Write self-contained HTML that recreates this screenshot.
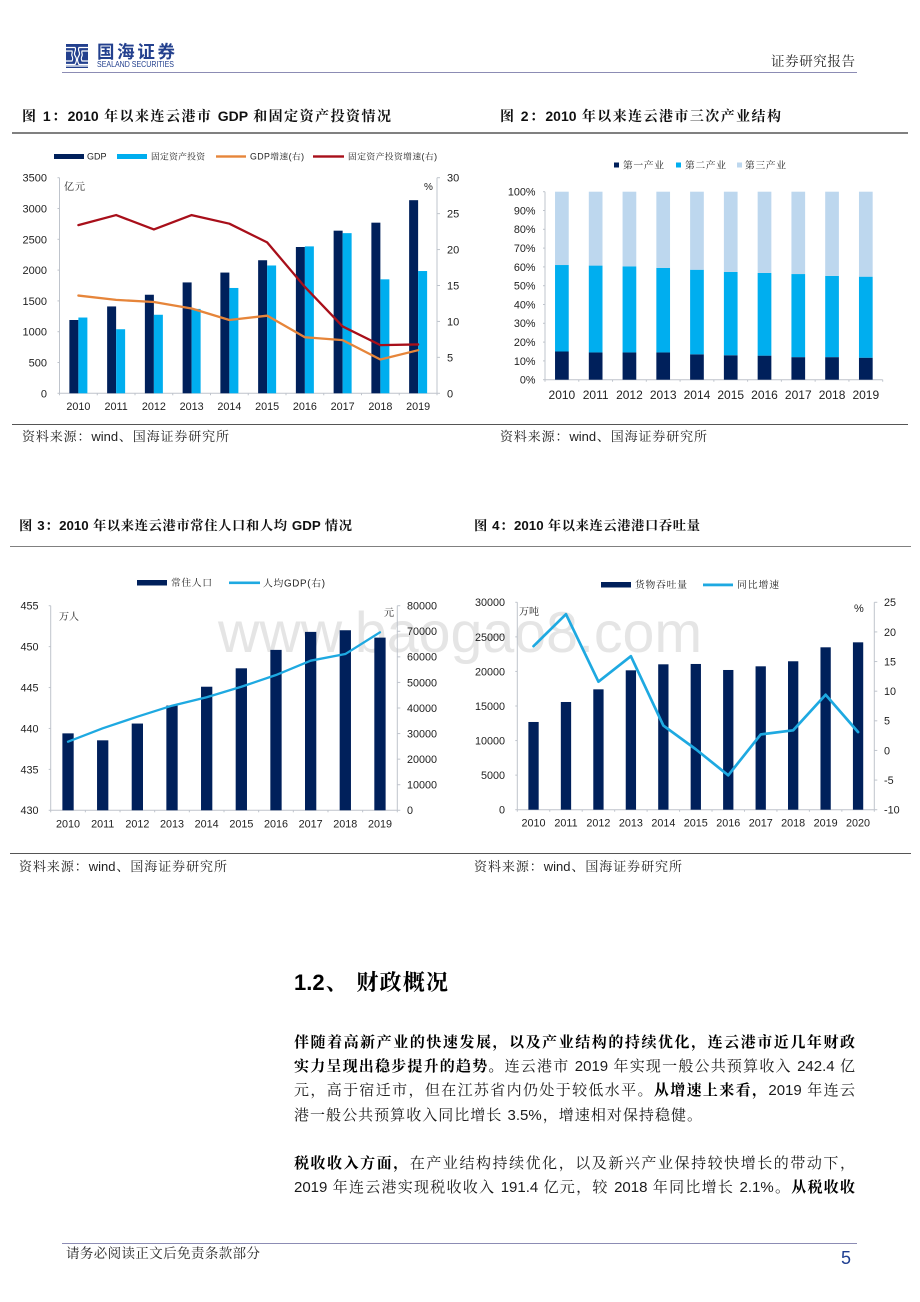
<!DOCTYPE html>
<html lang="zh">
<head>
<meta charset="utf-8">
<title>连云港市经济概况</title>
<style>
html,body{margin:0;padding:0;background:#fff;}
#page{position:relative;width:920px;height:1302px;overflow:hidden;background:#fff;font-family:"Liberation Sans","Noto Serif CJK SC",serif;color:#111;filter:blur(0.3px);}
#charts{position:absolute;left:0;top:0;}
.t{position:absolute;white-space:nowrap;text-align:justify;text-align-last:justify;}
.title{font-size:14px;line-height:18px;height:18px;font-weight:700;color:#111;}
.src{font-size:13px;line-height:16px;height:16px;color:#222;}
.body{font-size:15px;line-height:20px;height:20px;left:294px;color:#1a1a1a;}
.body b{font-weight:700;color:#000;}
.rule{position:absolute;}
svg text{font-family:"Liberation Sans","Noto Serif CJK SC",serif;}
</style>
</head>
<body>
<div id="page">

<svg id="charts" width="920" height="1302" viewBox="0 0 920 1302" xmlns="http://www.w3.org/2000/svg">
  <text x="218" y="652" font-size="57.3" fill="#e5e5e5">www.baogao8.com</text>

  <g id="logo" fill="#23408e">
    <rect x="66" y="44" width="22" height="24"/>
    <g fill="none" stroke="#fff" stroke-width="1.2">
      <path d="M66 47.5h9c2 3-2 5 0 8s2 5 0 9h-9"/>
      <path d="M66 51h6c1 2-1 3 0 5s1 3 0 5h-6"/>
      <path d="M88 47.5h-9c-2 3 2 5 0 8s-2 5 0 9h9"/>
      <path d="M88 51h-6c-1 2 1 3 0 5s-1 3 0 5h6"/>
      <path d="M66 66h22"/>
    </g>
    <text x="97" y="58" font-size="17.5" font-weight="700" textLength="78" style="font-family:'Noto Sans CJK SC',sans-serif">国海证券</text>
    <text x="97" y="67" font-size="8" textLength="77" lengthAdjust="spacingAndGlyphs">SEALAND SECURITIES</text>
  </g>

  <g id="chart1"></g>
  <g id="chart2"></g>
  <g id="chart3"></g>
  <g id="chart4"></g>

  <g font-size="8.8" fill="#222">
    <rect x="54" y="154" width="30" height="5" fill="#00205b"/>
    <text x="87" y="159.5" font-size="9">GDP</text>
    <rect x="117" y="154" width="30" height="5" fill="#00aeef"/>
    <text x="151" y="159.5" textLength="54" style="font-family:'Noto Serif CJK SC',serif">固定资产投资</text>
    <rect x="216" y="155.3" width="30" height="2.4" fill="#e6853a"/>
    <text x="250" y="159.5" textLength="54">GDP增速(右)</text>
    <rect x="313" y="155.3" width="31" height="2.4" fill="#a80f1a"/>
    <text x="348" y="159.5" textLength="89">固定资产投资增速(右)</text>
  </g>
  <text x="64" y="190" font-size="10" textLength="21" fill="#222">亿元</text>
  <text x="424" y="190" font-size="10" fill="#222">%</text>

  <g font-size="9.8" fill="#222">
    <rect x="614" y="162.5" width="5" height="5" fill="#00205b"/>
    <text x="623" y="168.5" textLength="41">第一产业</text>
    <rect x="676" y="162.5" width="5" height="5" fill="#00aeef"/>
    <text x="685" y="168.5" textLength="41">第二产业</text>
    <rect x="737" y="162.5" width="5" height="5" fill="#bdd7ee"/>
    <text x="745" y="168.5" textLength="41">第三产业</text>
  </g>

  <g font-size="9.8" fill="#222">
    <rect x="137" y="580" width="30" height="5.5" fill="#00205b"/>
    <text x="171" y="586" textLength="41">常住人口</text>
    <rect x="229" y="581.5" width="31" height="2.6" fill="#1ea9e1"/>
    <text x="263" y="586.5" textLength="62">人均GDP(右)</text>
  </g>
  <text x="59" y="620" font-size="10" textLength="20" fill="#222">万人</text>
  <text x="384" y="616" font-size="10" fill="#222">元</text>

  <g font-size="9.8" fill="#222">
    <rect x="601" y="582" width="30" height="5.5" fill="#00205b"/>
    <text x="635" y="588" textLength="52">货物吞吐量</text>
    <rect x="703" y="583.5" width="30" height="2.8" fill="#1ea9e1"/>
    <text x="737" y="588" textLength="42">同比增速</text>
  </g>
  <text x="519" y="615" font-size="10" textLength="20" fill="#222">万吨</text>
  <text x="854" y="612" font-size="11" fill="#222">%</text>
</svg>

<div class="rule" style="left:62px;top:72px;width:795px;height:1px;background:#8c8cb4"></div>
<div class="t" style="left:771px;top:53px;width:84px;font-size:13.5px;line-height:18px;color:#222">证券研究报告</div>

<div class="t title" style="left:22px;top:106.5px;width:369px">图 1：2010 年以来连云港市 GDP 和固定资产投资情况</div>
<div class="t title" style="left:500px;top:106.5px;width:281px">图 2：2010 年以来连云港市三次产业结构</div>
<div class="rule" style="left:12px;top:132px;width:896px;height:1.5px;background:#808080"></div>
<div class="rule" style="left:12px;top:423.5px;width:896px;height:1px;background:#555"></div>
<div class="t src" style="left:22px;top:429px;width:207px">资料来源：wind、国海证券研究所</div>
<div class="t src" style="left:500px;top:429px;width:207px">资料来源：wind、国海证券研究所</div>

<div class="t title" style="left:19px;top:517px;width:333px;font-size:13.3px">图 3：2010 年以来连云港市常住人口和人均 GDP 情况</div>
<div class="t title" style="left:474px;top:517px;width:226px;font-size:13.3px">图 4：2010 年以来连云港港口吞吐量</div>
<div class="rule" style="left:10px;top:545.5px;width:901px;height:1.5px;background:#808080"></div>
<div class="rule" style="left:10px;top:853px;width:901px;height:1px;background:#555"></div>
<div class="t src" style="left:19px;top:859px;width:208px">资料来源：wind、国海证券研究所</div>
<div class="t src" style="left:474px;top:859px;width:208px">资料来源：wind、国海证券研究所</div>

<div class="t" style="left:294px;top:969px;width:154px;font-size:22px;line-height:28px;font-weight:700;color:#000">1.2、 财政概况</div>

<div class="t body" style="top:1033px;width:561px"><b>伴随着高新产业的快速发展，以及产业结构的持续优化，连云港市近几年财政</b></div>
<div class="t body" style="top:1057px;width:561px"><b>实力呈现出稳步提升的趋势。</b>连云港市 2019 年实现一般公共预算收入 242.4 亿</div>
<div class="t body" style="top:1081px;width:561px">元，高于宿迁市，但在江苏省内仍处于较低水平。<b>从增速上来看，</b>2019 年连云</div>
<div class="t body" style="top:1106px;width:408px">港一般公共预算收入同比增长 3.5%，增速相对保持稳健。</div>
<div class="t body" style="top:1154px;width:561px"><b>税收收入方面，</b>在产业结构持续优化，以及新兴产业保持较快增长的带动下，</div>
<div class="t body" style="top:1178px;width:561px">2019 年连云港实现税收收入 191.4 亿元，较 2018 年同比增长 2.1%。<b>从税收收</b></div>

<div class="rule" style="left:62px;top:1243px;width:795px;height:1px;background:#8c8cb4"></div>
<div class="t" style="left:66px;top:1245px;width:194px;font-size:13.5px;line-height:18px;color:#222">请务必阅读正文后免责条款部分</div>
<div class="t" style="left:841px;top:1247px;font-size:18px;line-height:22px;color:#1f3f91;text-align-last:left">5</div>
</div>

<script>
// Chart 1
const years1 = ['2010','2011','2012','2013','2014','2015','2016','2017','2018','2019'];
const gdp = [1190,1410,1600,1800,1960,2160,2375,2640,2770,3135];
const investment = [1230,1040,1275,1370,1710,2075,2385,2600,1850,1985];
const gdpGrowth = [13.6,13.0,12.7,11.8,10.2,10.8,7.8,7.4,4.7,6.0];
const investmentGrowth = [23.4,24.8,22.8,24.8,23.6,21.0,14.8,9.3,6.7,6.8];
const ticks1Left = [0,500,1000,1500,2000,2500,3000,3500];
const ticks1Right = [0,5,10,15,20,25,30];
// Chart 2
const years2 = ['2010','2011','2012','2013','2014','2015','2016','2017','2018','2019'];
const primaryShare = [15,14.5,14.5,14.5,13.5,13,12.8,12,12,11.7];
const secondaryShare = [46,46.2,45.8,45,45,44.3,44,44.2,43.2,43.1];
const tertiaryShare = [39,39.3,39.7,40.5,41.5,42.7,43.2,43.8,44.8,45.2];
const ticks2 = [0,10,20,30,40,50,60,70,80,90,100];
// Chart 3
const years3 = ['2010','2011','2012','2013','2014','2015','2016','2017','2018','2019'];
const population = [439.4,438.55,440.6,442.8,445.1,447.35,449.6,451.8,452,451.1];
const gdpPerCapita = [26840,32050,36600,40900,44200,48300,52900,58500,61100,69600];
const ticks3Left = [430,435,440,445,450,455];
const ticks3Right = [0,10000,20000,30000,40000,50000,60000,70000,80000];
// Chart 4
const years4 = ['2010','2011','2012','2013','2014','2015','2016','2017','2018','2019','2020'];
const throughput = [12690,15580,17410,20160,21030,21080,20210,20740,21470,23490,24210];
const throughputGrowth = [17.6,23,11.6,15.9,4.2,0.2,-4.2,2.7,3.4,9.4,3.1];
const ticks4Left = [0,5000,10000,15000,20000,25000,30000];
const ticks4Right = [-10,-5,0,5,10,15,20,25];

const NS = 'http://www.w3.org/2000/svg';
const NAVY = '#00205b', CYAN = '#00aeef', PALE = '#bdd7ee', AXIS = '#bfc4cc';

function make(parent, tag, props, text) {
  const el = document.createElementNS(NS, tag);
  for (const k in props) el.setAttribute(k, props[k]);
  if (text !== undefined) el.textContent = text;
  parent.appendChild(el);
  return el;
}
function linear(d0, d1, r0, r1) {
  return v => r0 + (v - d0) * (r1 - r0) / (d1 - d0);
}
function bandCenter(left, right, n) {
  const w = (right - left) / n;
  return i => left + w * (i + 0.5);
}
function drawFrame(g, box, cats, left, leftY, right, rightY, opts) {
  const xAxis = make(g, 'path', {d: 'M' + box.l + ' ' + box.b + 'H' + box.r, stroke: AXIS, fill: 'none', 'stroke-width': 1});
  
  
  const yAxis = make(g, 'path', {d: 'M' + box.l + ' ' + box.t + 'V' + box.b, stroke: AXIS, fill: 'none', 'stroke-width': 1});
  
  
  const w = (box.r - box.l) / cats.length;
  cats.forEach((c, i) => {
    make(g, 'path', {d: 'M' + (box.l + w * i) + ' ' + box.b + 'v2', stroke: AXIS, fill: 'none'});
    const lab = make(g, 'text', {x: box.l + w * (i + 0.5), y: opts.xBase, 'font-size': opts.xSize, 'text-anchor': 'middle', fill: '#222'}, c);
    
    
  });
  make(g, 'path', {d: 'M' + box.r + ' ' + box.b + 'v2', stroke: AXIS, fill: 'none'});
  left.forEach(v => {
    const y = leftY(v);
    make(g, 'path', {d: 'M' + (box.l - 2) + ' ' + y + 'H' + box.l, stroke: AXIS, fill: 'none'});
    const lab = make(g, 'text', {x: opts.leftX, y: y + opts.ySize * 0.36, 'font-size': opts.ySize, 'text-anchor': 'end', fill: '#222'}, v + (opts.leftSuffix || ''));
    
    
  });
  if (right) {
    const rAxis = make(g, 'path', {d: 'M' + box.r + ' ' + box.t + 'V' + box.b, stroke: AXIS, fill: 'none'});
    
    
    right.forEach(v => {
      const y = rightY(v);
      make(g, 'path', {d: 'M' + box.r + ' ' + y + 'h3', stroke: AXIS, fill: 'none'});
      const lab = make(g, 'text', {x: opts.rightX, y: y + opts.ySize * 0.36, 'font-size': opts.ySize, fill: '#222'}, v);
      
      
    });
  }
}
function drawLine(g, values, cx, y, color, width) {
  const pts = values.map((v, i) => cx(i).toFixed(2) + ',' + y(v).toFixed(2)).join(' ');
  return make(g, 'polyline', {points: pts, fill: 'none', stroke: color, 'stroke-width': width, 'stroke-linejoin': 'round', 'stroke-linecap': 'round'});
}

// ---- Chart 1
(function () {
  const g = document.getElementById('chart1');
  const box = {l: 59.5, r: 437, t: 177.7, b: 393.3};
  const yL = linear(0, 3500, box.b, box.t), yR = linear(0, 30, box.b, box.t);
  const cx = bandCenter(box.l, box.r, years1.length), bw = 9;
  drawFrame(g, box, years1, ticks1Left, yL, ticks1Right, yR, {xBase: 410, xSize: 10.8, ySize: 11, leftX: 47, rightX: 447});
  years1.forEach((c, i) => {
    const a = make(g, 'rect', {x: cx(i) - bw, y: yL(gdp[i]), width: bw, height: box.b - yL(gdp[i]), fill: NAVY});
    
    
    const b = make(g, 'rect', {x: cx(i), y: yL(investment[i]), width: bw, height: box.b - yL(investment[i]), fill: CYAN});
    
    
  });
  const l1 = drawLine(g, gdpGrowth, cx, yR, '#e6853a', 2.3);
  
  
  const l2 = drawLine(g, investmentGrowth, cx, yR, '#a80f1a', 2.3);
  
  
})();

// ---- Chart 2
(function () {
  const g = document.getElementById('chart2');
  const box = {l: 545, r: 882.7, t: 191.7, b: 379.7};
  const y = linear(0, 100, box.b, box.t);
  const cx = bandCenter(box.l, box.r, years2.length), bw = 13.7;
  drawFrame(g, box, years2, ticks2, y, null, null, {xBase: 399, xSize: 12, ySize: 10.8, leftX: 535.5, leftSuffix: '%'});
  years2.forEach((c, i) => {
    let base = 0;
    [[primaryShare, NAVY, 'primary-industry-bar'], [secondaryShare, CYAN, 'secondary-industry-bar'], [tertiaryShare, PALE, 'tertiary-industry-bar']].forEach(s => {
      const top = base + s[0][i];
      const r = make(g, 'rect', {x: cx(i) - bw / 2, y: y(top), width: bw, height: y(base) - y(top), fill: s[1]});
      
      
      base = top;
    });
  });
})();

// ---- Chart 3
(function () {
  const g = document.getElementById('chart3');
  const box = {l: 50.7, r: 397.3, t: 605.7, b: 810.3};
  const yL = linear(430, 455, box.b, box.t), yR = linear(0, 80000, box.b, box.t);
  const cx = bandCenter(box.l, box.r, years3.length), bw = 11.3;
  drawFrame(g, box, years3, ticks3Left, yL, ticks3Right, yR, {xBase: 827.5, xSize: 10.8, ySize: 10.8, leftX: 38.5, rightX: 407});
  years3.forEach((c, i) => {
    const r = make(g, 'rect', {x: cx(i) - bw / 2, y: yL(population[i]), width: bw, height: box.b - yL(population[i]), fill: NAVY});
    
    
  });
  const l = drawLine(g, gdpPerCapita, cx, yR, '#1ea9e1', 2.3);
  
  
})();

// ---- Chart 4
(function () {
  const g = document.getElementById('chart4');
  const box = {l: 517.3, r: 874.3, t: 602.3, b: 809.7};
  const yL = linear(0, 30000, box.b, box.t), yR = linear(-10, 25, box.b, box.t);
  const cx = bandCenter(box.l, box.r, years4.length), bw = 10.3;
  drawFrame(g, box, years4, ticks4Left, yL, ticks4Right, yR, {xBase: 826.7, xSize: 10.8, ySize: 10.8, leftX: 505, rightX: 884});
  years4.forEach((c, i) => {
    const r = make(g, 'rect', {x: cx(i) - bw / 2, y: yL(throughput[i]), width: bw, height: box.b - yL(throughput[i]), fill: NAVY});
    
    
  });
  const l = drawLine(g, throughputGrowth, cx, yR, '#1ea9e1', 2.7);
  
  
})();
</script>
</body>
</html>
